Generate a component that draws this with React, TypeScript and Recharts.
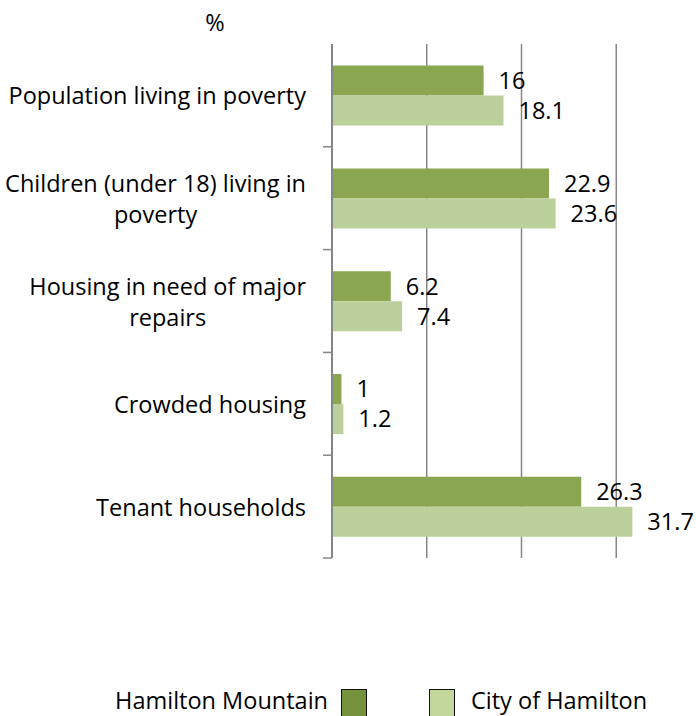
import React from 'react';
import { BarChart, Bar, XAxis, YAxis, CartesianGrid, LabelList } from 'recharts';

// ─── Data ─────────────────────────────────────────────────────────────────────

const categories = [
    'Population living in poverty',
    'Children (under 18) living in poverty',
    'Housing in need of major repairs',
    'Crowded housing',
    'Tenant households',
];

// how each category label wraps, as in the original chart
const categoryLines: string[][] = [
    ['Population living in poverty'],
    ['Children (under 18) living in', 'poverty'],
    ['Housing in need of major', 'repairs'],
    ['Crowded housing'],
    ['Tenant households'],
];

const hamiltonMountain = [16, 22.9, 6.2, 1, 26.3];
const cityOfHamilton = [18.1, 23.6, 7.4, 1.2, 31.7];

const xTicks = [0, 10, 20, 30, 40];

const data = categories.map((name, i) => ({
    name,
    mountain: hamiltonMountain[i],
    city: cityOfHamilton[i],
}));

// ─── Style constants ──────────────────────────────────────────────────────────

const FONT = '"Open Sans", sans-serif';
const FONT_SIZE = 23.5;
const LINE_HEIGHT = 31;
const GRID = '#868686';
const DARK = '#8BA650';
const LIGHT = '#BBD09A';

const CHART_W = 712;
const CHART_H = 716;
const MARGIN = { top: 44, right: 1, bottom: 158, left: 0 };
const BAND = (CHART_H - MARGIN.top - MARGIN.bottom) / categories.length;

if (typeof document !== 'undefined') document.body.style.margin = '0';

// ─── Text measuring (for centred wrapped labels) ──────────────────────────────

let ctx: CanvasRenderingContext2D | null = null;
function textWidth(s: string): number {
    if (!ctx) ctx = document.createElement('canvas').getContext('2d');
    if (!ctx) return s.length * FONT_SIZE * 0.5;
    ctx.font = `${FONT_SIZE}px "Open Sans"`;
    return ctx.measureText(s).width;
}

// ─── Category tick ────────────────────────────────────────────────────────────

const CategoryTick = (props: any) => {
    const { x, y, payload } = props;
    const idx = categories.indexOf(payload.value);
    const lines = categoryLines[idx] ?? [String(payload.value)];
    const maxW = Math.max(...lines.map(textWidth));
    const right = x - 26;
    const cx = right - maxW / 2;
    const firstDy = -((lines.length - 1) / 2) * LINE_HEIGHT;
    const tickY = y + BAND / 2;

    return (
        <g>
            <line x1={x - 9} x2={x} y1={tickY} y2={tickY} stroke={GRID} strokeWidth={1.5} />
            <text
                x={cx}
                y={y}
                textAnchor="middle"
                dominantBaseline="central"
                fill="#000"
                fontFamily={FONT}
                fontSize={FONT_SIZE}
            >
                {lines.map((l, i) => (
                    <tspan key={i} x={cx} dy={i === 0 ? firstDy : LINE_HEIGHT}>
                        {l}
                    </tspan>
                ))}
            </text>
        </g>
    );
};

// ─── Legend ───────────────────────────────────────────────────────────────────

const legendBox = (color: string): React.CSSProperties => ({
    width: 26,
    height: 32,
    boxSizing: 'border-box',
    border: '1.5px solid #111',
    background: color,
});

const legendText: React.CSSProperties = {
    fontFamily: FONT,
    fontSize: FONT_SIZE,
    color: '#000',
    lineHeight: '24px',
    marginTop: -1,
    whiteSpace: 'nowrap',
};

// ─── Component ────────────────────────────────────────────────────────────────

export default function App() {
    return (
        <div style={{ position: 'relative', width: 696, height: 716, overflow: 'hidden', background: '#fff' }}>
            <div
                style={{
                    position: 'absolute',
                    left: 215,
                    top: 8,
                    transform: 'translateX(-50%)',
                    fontFamily: FONT,
                    fontSize: FONT_SIZE,
                    lineHeight: '28px',
                }}
            >
                %
            </div>

            <BarChart
                width={CHART_W}
                height={CHART_H}
                data={data}
                layout="vertical"
                margin={MARGIN}
                barCategoryGap="21%"
                barGap={0}
            >
                <CartesianGrid horizontal={false} stroke={GRID} strokeWidth={1.5} />
                <XAxis type="number" domain={[0, 40]} ticks={xTicks} hide />
                <YAxis
                    type="category"
                    dataKey="name"
                    width={332}
                    axisLine={{ stroke: GRID, strokeWidth: 2 }}
                    tickLine={false}
                    tickSize={0}
                    tickMargin={0}
                    tick={<CategoryTick />}
                    interval={0}
                />
                <Bar dataKey="mountain" fill={DARK} isAnimationActive={false}>
                    <LabelList
                        dataKey="mountain"
                        position="right"
                        offset={15}
                        fill="#000"
                        fontFamily={FONT}
                        fontSize={FONT_SIZE}
                    />
                </Bar>
                <Bar dataKey="city" fill={LIGHT} isAnimationActive={false}>
                    <LabelList
                        dataKey="city"
                        position="right"
                        offset={15}
                        fill="#000"
                        fontFamily={FONT}
                        fontSize={FONT_SIZE}
                    />
                </Bar>
            </BarChart>

            {/* Legend */}
            <div
                style={{
                    position: 'absolute',
                    top: 689,
                    right: 696 - 367,
                    display: 'flex',
                    alignItems: 'flex-start',
                    gap: 13,
                }}
            >
                <span style={legendText}>Hamilton Mountain</span>
                <div style={legendBox('#76923C')} />
            </div>
            <div
                style={{
                    position: 'absolute',
                    top: 689,
                    left: 429,
                    display: 'flex',
                    alignItems: 'flex-start',
                    gap: 16,
                }}
            >
                <div style={legendBox('#C3D69B')} />
                <span style={legendText}>City of Hamilton</span>
            </div>
        </div>
    );
}
